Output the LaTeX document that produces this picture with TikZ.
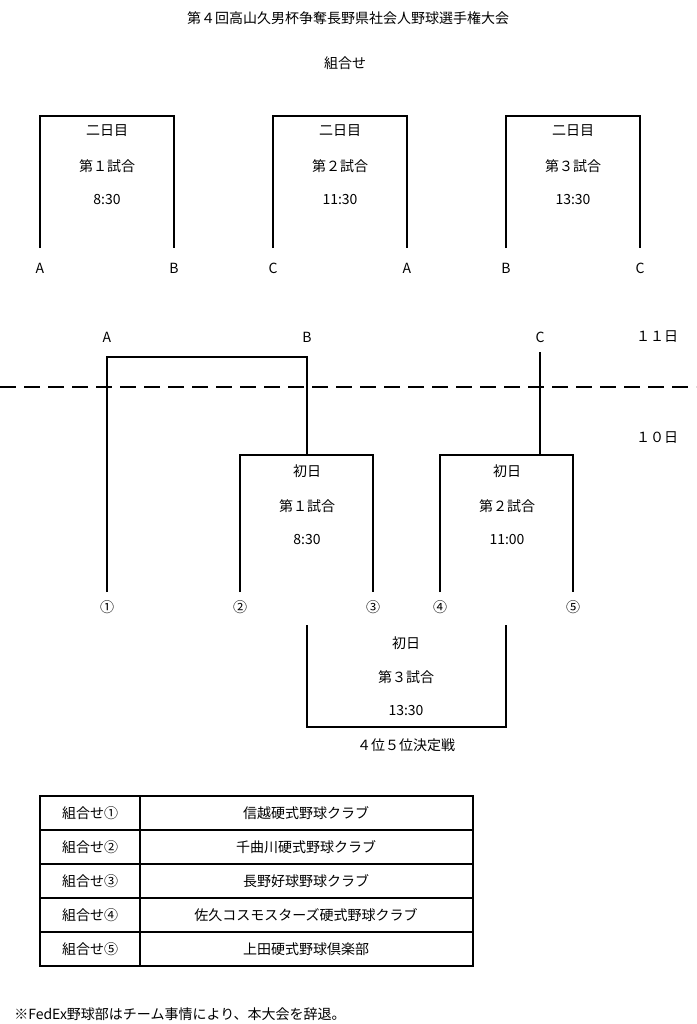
\documentclass[tikz,border=0pt]{standalone}
\usepackage{fontspec}
\setmainfont{Noto Sans CJK JP}
\begin{document}
\begin{tikzpicture}[x=0.75pt,y=-0.75pt,
    line/.style={draw=black,line width=0.9pt},
    lbl/.style={font=\fontsize{10.5pt}{12pt}\selectfont,inner sep=0pt}]
  \useasboundingbox (0,0) rectangle (696,1024);
  \node[lbl] (title) at (348,18) {第４回高山久男杯争奪長野県社会人野球選手権大会};
  \node[lbl] (sub) at (345,63) {組合せ};
  % second day
  \foreach \l/\n/\a/\b/\t in {40/１/A/B/8:30, 273/２/C/A/11:30, 506/３/B/C/13:30}{
    \draw[line] (\l,248) -- (\l,116) -- (\l+134,116) -- (\l+134,248);
    \node[lbl] at (\l+67,131) {二日目};
    \node[lbl] at (\l+67,166) {第\n 試合};
    \node[lbl] at (\l+67,200) {\t};
    \node[lbl] at (\l,268) {\a};
    \node[lbl] at (\l+134,268) {\b};
  }
  % day labels
  \node[lbl] (d11) at (657,337) {１１日};
  \node[lbl] (d10) at (657,438) {１０日};
  \draw[line width=2pt,dash pattern=on 12pt off 6pt] (0,387) -- (696,387);
  \node[lbl] (A) at (107,337) {A};
  \node[lbl] (B) at (307,337) {B};
  \node[lbl] (C) at (540,337) {C};
  \node[lbl] (n1) at (107,607) {①};
  \node[lbl] (n2) at (240,607) {②};
  \node[lbl] (n3) at (373,607) {③};
  \node[lbl] (n4) at (440,607) {④};
  \node[lbl] (n5) at (573,607) {⑤};
  \draw[line] (107,592) -- (107,357) -- (307,357) -- (307,455);
  \draw[line] (240,592) -- (240,455) -- (373,455) -- (373,592);
  \draw[line] (540,352) -- (540,455);
  \draw[line] (440,592) -- (440,455) -- (573,455) -- (573,592);
  \node[lbl] at (307,471) {初日};
  \node[lbl] at (307,506) {第１試合};
  \node[lbl] at (307,540) {8:30};
  \node[lbl] at (507,471) {初日};
  \node[lbl] at (507,506) {第２試合};
  \node[lbl] at (507,540) {11:00};
  % 4th/5th place
  \draw[line] (307,625) -- (307,727) -- (506,727) -- (506,625);
  \node[lbl] at (406,643) {初日};
  \node[lbl] at (406,677) {第３試合};
  \node[lbl] at (406,711) {13:30};
  \node[lbl] at (406,745) {４位５位決定戦};
  % table
  \draw[line] (40,796) rectangle (473,966);
  \draw[line] (140,796) -- (140,966);
  \foreach \i in {1,...,4} \draw[line] (40,796+34*\i) -- (473,796+34*\i);
  \foreach \i/\c/\team in {0/①/信越硬式野球クラブ, 1/②/千曲川硬式野球クラブ, 2/③/長野好球野球クラブ, 3/④/佐久コスモスターズ硬式野球クラブ, 4/⑤/上田硬式野球倶楽部}{
    \node[lbl] at (90,813+34*\i) {組合せ\c};
    \node[lbl] at (306,813+34*\i) {\team};
  }
  \node[lbl,anchor=west] (note) at (14,1014) {※FedEx野球部はチーム事情により、本大会を辞退。};
\end{tikzpicture}
\end{document}
